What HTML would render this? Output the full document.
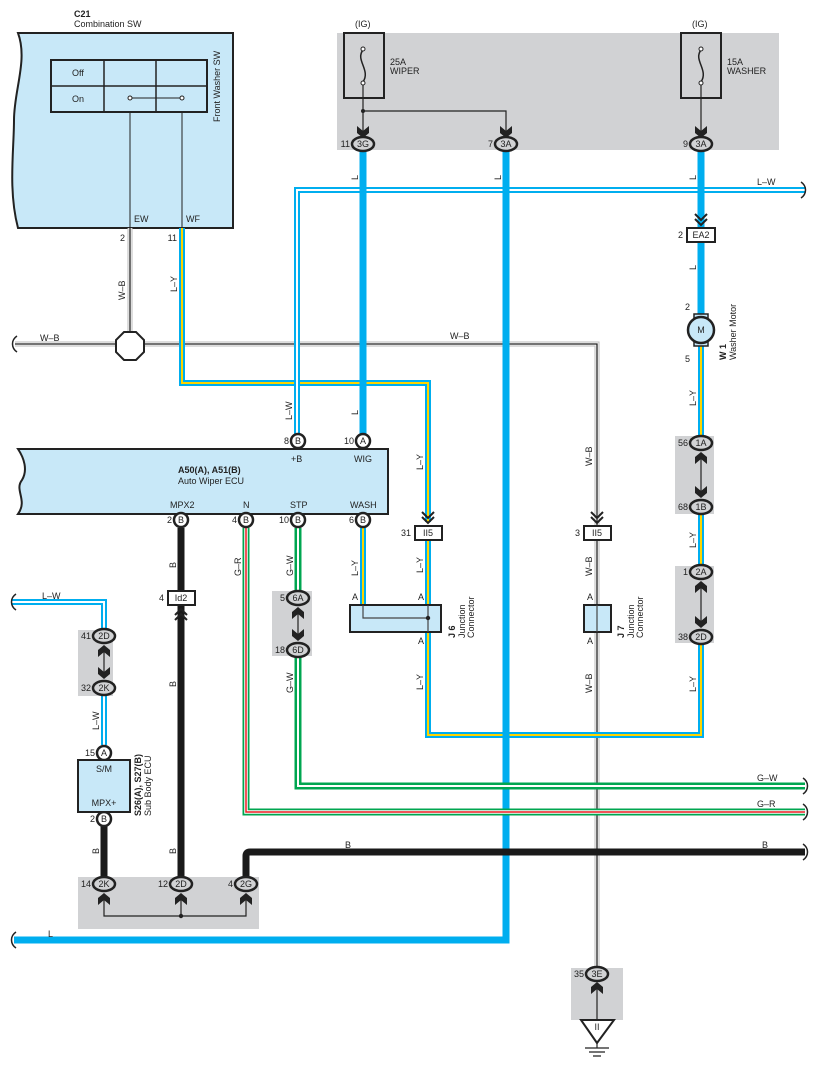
<!DOCTYPE html>
<html><head><meta charset="utf-8"><style>
html,body{margin:0;padding:0;background:#fff}
svg{display:block}
text{font-family:"Liberation Sans",sans-serif;font-size:9px;fill:#222}
.b{font-weight:bold}
</style></head><body>
<svg width="818" height="1073" viewBox="0 0 818 1073" xmlns="http://www.w3.org/2000/svg">
<defs>
<path id="arD" d="M-6,-7 L0,-2 L6,-7 L6,0 L0,5 L-6,0 Z" fill="#222"/>
<path id="arU" d="M-6,7 L0,2 L6,7 L6,0 L0,-5 L-6,0 Z" fill="#222"/>
<path id="chD" d="M-6,-8 L0,-2 L6,-8 M-6,-3 L0,3 L6,-3" fill="none" stroke="#222" stroke-width="2"/>
<path id="chU" d="M-6,8 L0,2 L6,8 M-6,3 L0,-3 L6,3" fill="none" stroke="#222" stroke-width="2"/>
</defs>

<rect x="337" y="33" width="442" height="117" fill="#d1d2d4"/>
<rect x="272" y="591" width="40" height="65" fill="#d1d2d4"/>
<rect x="78" y="630" width="35" height="66" fill="#d1d2d4"/>
<rect x="675" y="436" width="39" height="78" fill="#d1d2d4"/>
<rect x="675" y="566" width="39" height="77" fill="#d1d2d4"/>
<rect x="78" y="877" width="181" height="52" fill="#d1d2d4"/>
<rect x="571" y="968" width="52" height="52" fill="#d1d2d4"/>

<path d="M18,33 L233,33 L233,228 L18,228 C8,190 14,150 14,120 C14,90 28,60 18,33 Z" fill="#c8e8f8" stroke="#222" stroke-width="2"/>
<text x="74" y="17" class="b">C21</text>
<text x="74" y="27">Combination SW</text>
<rect x="51" y="60" width="156" height="52" fill="none" stroke="#222" stroke-width="2"/>
<line x1="51" y1="86" x2="207" y2="86" stroke="#222" stroke-width="1.5"/>
<line x1="104" y1="60" x2="104" y2="112" stroke="#222" stroke-width="1.5"/>
<line x1="156" y1="60" x2="156" y2="112" stroke="#222" stroke-width="1.5"/>
<text x="72" y="76">Off</text><text x="72" y="102">On</text>
<line x1="130" y1="98" x2="182" y2="98" stroke="#222"/>
<circle cx="130" cy="98" r="2" fill="#fff" stroke="#222"/><circle cx="182" cy="98" r="2" fill="#fff" stroke="#222"/>
<line x1="130" y1="112" x2="130" y2="228" stroke="#222"/>
<line x1="182" y1="112" x2="182" y2="228" stroke="#222"/>
<text x="134" y="222">EW</text><text x="186" y="222">WF</text>
<text transform="translate(220,122) rotate(-90)">Front Washer SW</text>

<text x="355" y="27">(IG)</text><text x="692" y="27">(IG)</text>
<rect x="344" y="33" width="40" height="65" fill="none" stroke="#222" stroke-width="2"/>
<rect x="681" y="33" width="40" height="65" fill="none" stroke="#222" stroke-width="2"/>
<path d="M363,50 C355,60 371,70 363,82" fill="none" stroke="#222" stroke-width="1.5"/>
<path d="M701,50 C693,60 709,70 701,82" fill="none" stroke="#222" stroke-width="1.5"/>
<circle cx="363" cy="49" r="2" fill="#fff" stroke="#222"/><circle cx="363" cy="83" r="2" fill="#fff" stroke="#222"/>
<circle cx="701" cy="49" r="2" fill="#fff" stroke="#222"/><circle cx="701" cy="83" r="2" fill="#fff" stroke="#222"/>
<text x="390" y="65">25A</text><text x="390" y="74">WIPER</text>
<text x="727" y="65">15A</text><text x="727" y="74">WASHER</text>
<path d="M363,85 L363,132 M363,111 L506,111 L506,132 M701,85 L701,132" fill="none" stroke="#222" stroke-width="1.2"/>
<circle cx="363" cy="111" r="2" fill="#222"/>
<use href="#arD" x="363" y="133"/><use href="#arD" x="506" y="133"/><use href="#arD" x="701" y="133"/>

<g fill="none">
<path d="M130,228 L130,344 M15,344 L597,344 L597,968" stroke="#bbb" stroke-width="5"/>
<path d="M130,228 L130,344 M15,344 L597,344 L597,968" stroke="#fff" stroke-width="3"/>
<path d="M130,228 L130,344 M15,344 L597,344 L597,968" stroke="#222" stroke-width="1.3"/>
</g>
<polygon points="124,332 136,332 144,340 144,352 136,360 124,360 116,352 116,340" fill="#fff" stroke="#222" stroke-width="2"/>

<g fill="none">
<path d="M182,228 L182,383 L428,383 L428,522 M428,541 L428,735 L701,735 L701,644 M363,528 L363,605 M701,345 L701,436 M701,514 L701,566" stroke="#00aeef" stroke-width="6"/>
<path d="M182,228 L182,383 L428,383 L428,522 M428,541 L428,735 L701,735 L701,644 M363,528 L363,605 M701,345 L701,436 M701,514 L701,566" stroke="#ffd400" stroke-width="2"/>
</g>

<g fill="none">
<path d="M805,190 L297,190 L297,434 M12,602 L104,602 L104,630 M104,696 L104,745" stroke="#00aeef" stroke-width="6"/>
<path d="M805,190 L297,190 L297,434 M12,602 L104,602 L104,630 M104,696 L104,745" stroke="#fff" stroke-width="2"/>
</g>

<g fill="none" stroke="#00aeef" stroke-width="7">
<path d="M363,150 L363,434"/>
<path d="M506,150 L506,940 L14,940"/>
<path d="M701,150 L701,228 M701,242 L701,317"/>
</g>

<g fill="none">
<path d="M246,528 L246,812 L805,812" stroke="#00a650" stroke-width="7"/>
<path d="M246,528 L246,812 L805,812" stroke="#fff" stroke-width="3.5"/>
<path d="M246,528 L246,812 L805,812" stroke="#ed1c24" stroke-width="1.5"/>
</g>
<g fill="none">
<path d="M298,528 L298,591 M298,656 L298,786 L805,786" stroke="#00a650" stroke-width="7"/>
<path d="M298,528 L298,591 M298,656 L298,786 L805,786" stroke="#fff" stroke-width="2"/>
</g>
<g fill="none" stroke="#1a1a1a" stroke-width="7">
<path d="M181,528 L181,591 M181,606 L181,877"/>
<path d="M104,826 L104,877"/>
<path d="M246,877 L246,856 Q246,852 250,852 L805,852"/>
</g>

<g fill="none" stroke="#222" stroke-width="1.5">
<path d="M17,336 C11,340 11,348 17,352"/>
<path d="M16,594 C10,598 10,606 16,610"/>
<path d="M16,932 C10,936 10,944 16,948"/>
<path d="M801,182 C807,186 807,194 801,198"/>
<path d="M803,778 C809,782 809,790 803,794"/>
<path d="M803,804 C809,808 809,816 803,820"/>
<path d="M803,844 C809,848 809,856 803,860"/>
</g>

<path d="M18,449 L388,449 L388,514 L18,514 C28,500 14,490 22,480 C28,470 24,458 18,449 Z" fill="#c8e8f8" stroke="#222" stroke-width="2"/>
<text x="178" y="473" class="b">A50(A), A51(B)</text>
<text x="178" y="484">Auto Wiper ECU</text>
<text x="291" y="462">+B</text><text x="354" y="462">WIG</text>
<text x="170" y="508">MPX2</text><text x="243" y="508">N</text><text x="290" y="508">STP</text><text x="350" y="508">WASH</text>

<g stroke="#222" stroke-width="2.5" fill="#fff">
<circle cx="298" cy="441" r="7"/><circle cx="363" cy="441" r="7"/>
<circle cx="181" cy="520" r="7"/><circle cx="246" cy="520" r="7"/><circle cx="298" cy="520" r="7"/><circle cx="363" cy="520" r="7"/>
<circle cx="104" cy="753" r="7"/><circle cx="104" cy="819" r="7"/>
</g>
<g text-anchor="middle">
<text x="298" y="444">B</text><text x="363" y="444">A</text>
<text x="181" y="523">B</text><text x="246" y="523">B</text><text x="298" y="523">B</text><text x="363" y="523">B</text>
<text x="104" y="756">A</text><text x="104" y="822">B</text>
</g>
<g text-anchor="end">
<text x="289" y="444">8</text><text x="354" y="444">10</text>
<text x="172" y="523">2</text><text x="237" y="523">4</text><text x="289" y="523">10</text><text x="354" y="523">6</text>
<text x="95" y="756">15</text><text x="95" y="822">2</text>
</g>

<g stroke="#222" stroke-width="2.5" fill="#d1d2d4">
<ellipse cx="363" cy="144" rx="11" ry="7"/><ellipse cx="506" cy="144" rx="11" ry="7"/><ellipse cx="701" cy="144" rx="11" ry="7"/>
<ellipse cx="298" cy="598" rx="11" ry="7"/><ellipse cx="298" cy="650" rx="11" ry="7"/>
<ellipse cx="104" cy="636" rx="11" ry="7"/><ellipse cx="104" cy="688" rx="11" ry="7"/>
<ellipse cx="701" cy="443" rx="11" ry="7"/><ellipse cx="701" cy="507" rx="11" ry="7"/>
<ellipse cx="701" cy="572" rx="11" ry="7"/><ellipse cx="701" cy="637" rx="11" ry="7"/>
<ellipse cx="104" cy="884" rx="11" ry="7"/><ellipse cx="181" cy="884" rx="11" ry="7"/><ellipse cx="246" cy="884" rx="11" ry="7"/>
<ellipse cx="597" cy="974" rx="11" ry="7"/>
</g>
<g text-anchor="middle">
<text x="363" y="147">3G</text><text x="506" y="147">3A</text><text x="701" y="147">3A</text>
<text x="298" y="601">6A</text><text x="298" y="653">6D</text>
<text x="104" y="639">2D</text><text x="104" y="691">2K</text>
<text x="701" y="446">1A</text><text x="701" y="510">1B</text><text x="701" y="575">2A</text><text x="701" y="640">2D</text>
<text x="104" y="887">2K</text><text x="181" y="887">2D</text><text x="246" y="887">2G</text>
<text x="597" y="977">3E</text>
</g>
<g text-anchor="end">
<text x="350" y="147">11</text><text x="493" y="147">7</text><text x="688" y="147">9</text>
<text x="285" y="601">5</text><text x="285" y="653">18</text>
<text x="91" y="639">41</text><text x="91" y="691">32</text>
<text x="688" y="446">56</text><text x="688" y="510">68</text><text x="688" y="575">1</text><text x="688" y="640">38</text>
<text x="91" y="887">14</text><text x="168" y="887">12</text><text x="233" y="887">4</text>
<text x="584" y="977">35</text>
</g>
<g stroke="#222" stroke-width="1.2">
<line x1="298" y1="608" x2="298" y2="640"/><line x1="104" y1="646" x2="104" y2="678"/>
<line x1="701" y1="453" x2="701" y2="497"/><line x1="701" y1="582" x2="701" y2="627"/>
<path d="M104,895 L104,916 L246,916 L246,895 M181,895 L181,916 M597,984 L597,1020" fill="none"/>
</g>
<circle cx="181" cy="916" r="2.2" fill="#222"/>
<use href="#arU" x="298" y="612"/><use href="#arD" x="298" y="636"/>
<use href="#arU" x="104" y="650"/><use href="#arD" x="104" y="674"/>
<use href="#arU" x="701" y="457"/><use href="#arD" x="701" y="493"/>
<use href="#arU" x="701" y="586"/><use href="#arD" x="701" y="623"/>
<use href="#arU" x="104" y="898"/><use href="#arU" x="181" y="898"/><use href="#arU" x="246" y="898"/>
<use href="#arU" x="597" y="987"/>

<g stroke="#222" stroke-width="2" fill="#fff">
<rect x="687" y="228" width="28" height="14"/>
<rect x="168" y="591" width="27" height="14"/>
<rect x="415" y="526" width="27" height="14"/>
<rect x="584" y="526" width="27" height="14"/>
</g>
<g text-anchor="middle">
<text x="701" y="238">EA2</text><text x="181" y="601">Id2</text><text x="428" y="536">II5</text><text x="597" y="536">II5</text>
</g>
<g text-anchor="end"><text x="683" y="238">2</text><text x="164" y="601">4</text><text x="411" y="536">31</text><text x="580" y="536">3</text></g>
<use href="#chD" x="701" y="222"/><use href="#chD" x="428" y="520"/><use href="#chD" x="597" y="520"/>
<use href="#chU" x="181" y="612"/>

<rect x="350" y="605" width="91" height="27" fill="#c8e8f8" stroke="#222" stroke-width="2"/>
<path d="M363,605 L363,618 L428,618 M428,605 L428,632" fill="none" stroke="#444" stroke-width="1.2"/>
<circle cx="428" cy="618" r="2.2" fill="#222"/>
<rect x="584" y="605" width="27" height="27" fill="#c8e8f8" stroke="#222" stroke-width="2"/>
<line x1="597" y1="605" x2="597" y2="632" stroke="#444" stroke-width="1.2"/>
<text x="352" y="600">A</text><text x="418" y="600">A</text><text x="418" y="644">A</text>
<text x="587" y="600">A</text><text x="587" y="644">A</text>
<text transform="translate(455,638) rotate(-90)" class="b">J 6</text>
<text transform="translate(465,638) rotate(-90)">Junction</text>
<text transform="translate(474,638) rotate(-90)">Connector</text>
<text transform="translate(624,638) rotate(-90)" class="b">J 7</text>
<text transform="translate(634,638) rotate(-90)">Junction</text>
<text transform="translate(643,638) rotate(-90)">Connector</text>

<rect x="78" y="760" width="52" height="52" fill="#c8e8f8" stroke="#222" stroke-width="2"/>
<text x="104" y="772" text-anchor="middle">S/M</text>
<text x="104" y="806" text-anchor="middle">MPX+</text>
<text transform="translate(141,816) rotate(-90)" class="b">S26(A), S27(B)</text>
<text transform="translate(151,816) rotate(-90)">Sub Body ECU</text>

<rect x="694" y="314" width="14" height="5" fill="#c8e8f8" stroke="#222" stroke-width="1.5"/>
<rect x="694" y="341" width="14" height="5" fill="#c8e8f8" stroke="#222" stroke-width="1.5"/>
<circle cx="701" cy="330" r="13" fill="#c8e8f8" stroke="#222" stroke-width="2.5"/>
<text x="701" y="333" text-anchor="middle">M</text>
<text x="690" y="310" text-anchor="end">2</text><text x="690" y="362" text-anchor="end">5</text>
<text transform="translate(726,360) rotate(-90)" class="b">W 1</text>
<text transform="translate(736,360) rotate(-90)">Washer Motor</text>

<polygon points="581,1020 614,1020 597,1043" fill="#fff" stroke="#222" stroke-width="2"/>
<text x="597" y="1030" text-anchor="middle">II</text>
<path d="M585,1048 L609,1048 M589,1052 L605,1052 M593,1056 L601,1056 M597,1043 L597,1048" stroke="#222" stroke-width="1.2"/>

<text x="40" y="341">W–B</text><text x="450" y="339">W–B</text>
<text x="757" y="185">L–W</text><text x="42" y="599">L–W</text>
<text x="757" y="781">G–W</text><text x="757" y="807">G–R</text>
<text x="345" y="848">B</text><text x="762" y="848">B</text>
<text x="48" y="937">L</text>
<g>
<text transform="translate(125,300) rotate(-90)">W–B</text>
<text transform="translate(177,292) rotate(-90)">L–Y</text>
<text transform="translate(358,180) rotate(-90)">L</text>
<text transform="translate(501,180) rotate(-90)">L</text>
<text transform="translate(696,180) rotate(-90)">L</text>
<text transform="translate(696,270) rotate(-90)">L</text>
<text transform="translate(292,420) rotate(-90)">L–W</text>
<text transform="translate(358,415) rotate(-90)">L</text>
<text transform="translate(423,470) rotate(-90)">L–Y</text>
<text transform="translate(592,466) rotate(-90)">W–B</text>
<text transform="translate(696,406) rotate(-90)">L–Y</text>
<text transform="translate(696,548) rotate(-90)">L–Y</text>
<text transform="translate(696,692) rotate(-90)">L–Y</text>
<text transform="translate(423,573) rotate(-90)">L–Y</text>
<text transform="translate(592,576) rotate(-90)">W–B</text>
<text transform="translate(423,690) rotate(-90)">L–Y</text>
<text transform="translate(592,693) rotate(-90)">W–B</text>
<text transform="translate(176,568) rotate(-90)">B</text>
<text transform="translate(176,687) rotate(-90)">B</text>
<text transform="translate(176,854) rotate(-90)">B</text>
<text transform="translate(99,854) rotate(-90)">B</text>
<text transform="translate(241,576) rotate(-90)">G–R</text>
<text transform="translate(293,576) rotate(-90)">G–W</text>
<text transform="translate(293,693) rotate(-90)">G–W</text>
<text transform="translate(358,576) rotate(-90)">L–Y</text>
<text transform="translate(99,730) rotate(-90)">L–W</text>
</g>
<text x="125" y="241" text-anchor="end">2</text><text x="177" y="241" text-anchor="end">11</text>
</svg>
</body></html>
